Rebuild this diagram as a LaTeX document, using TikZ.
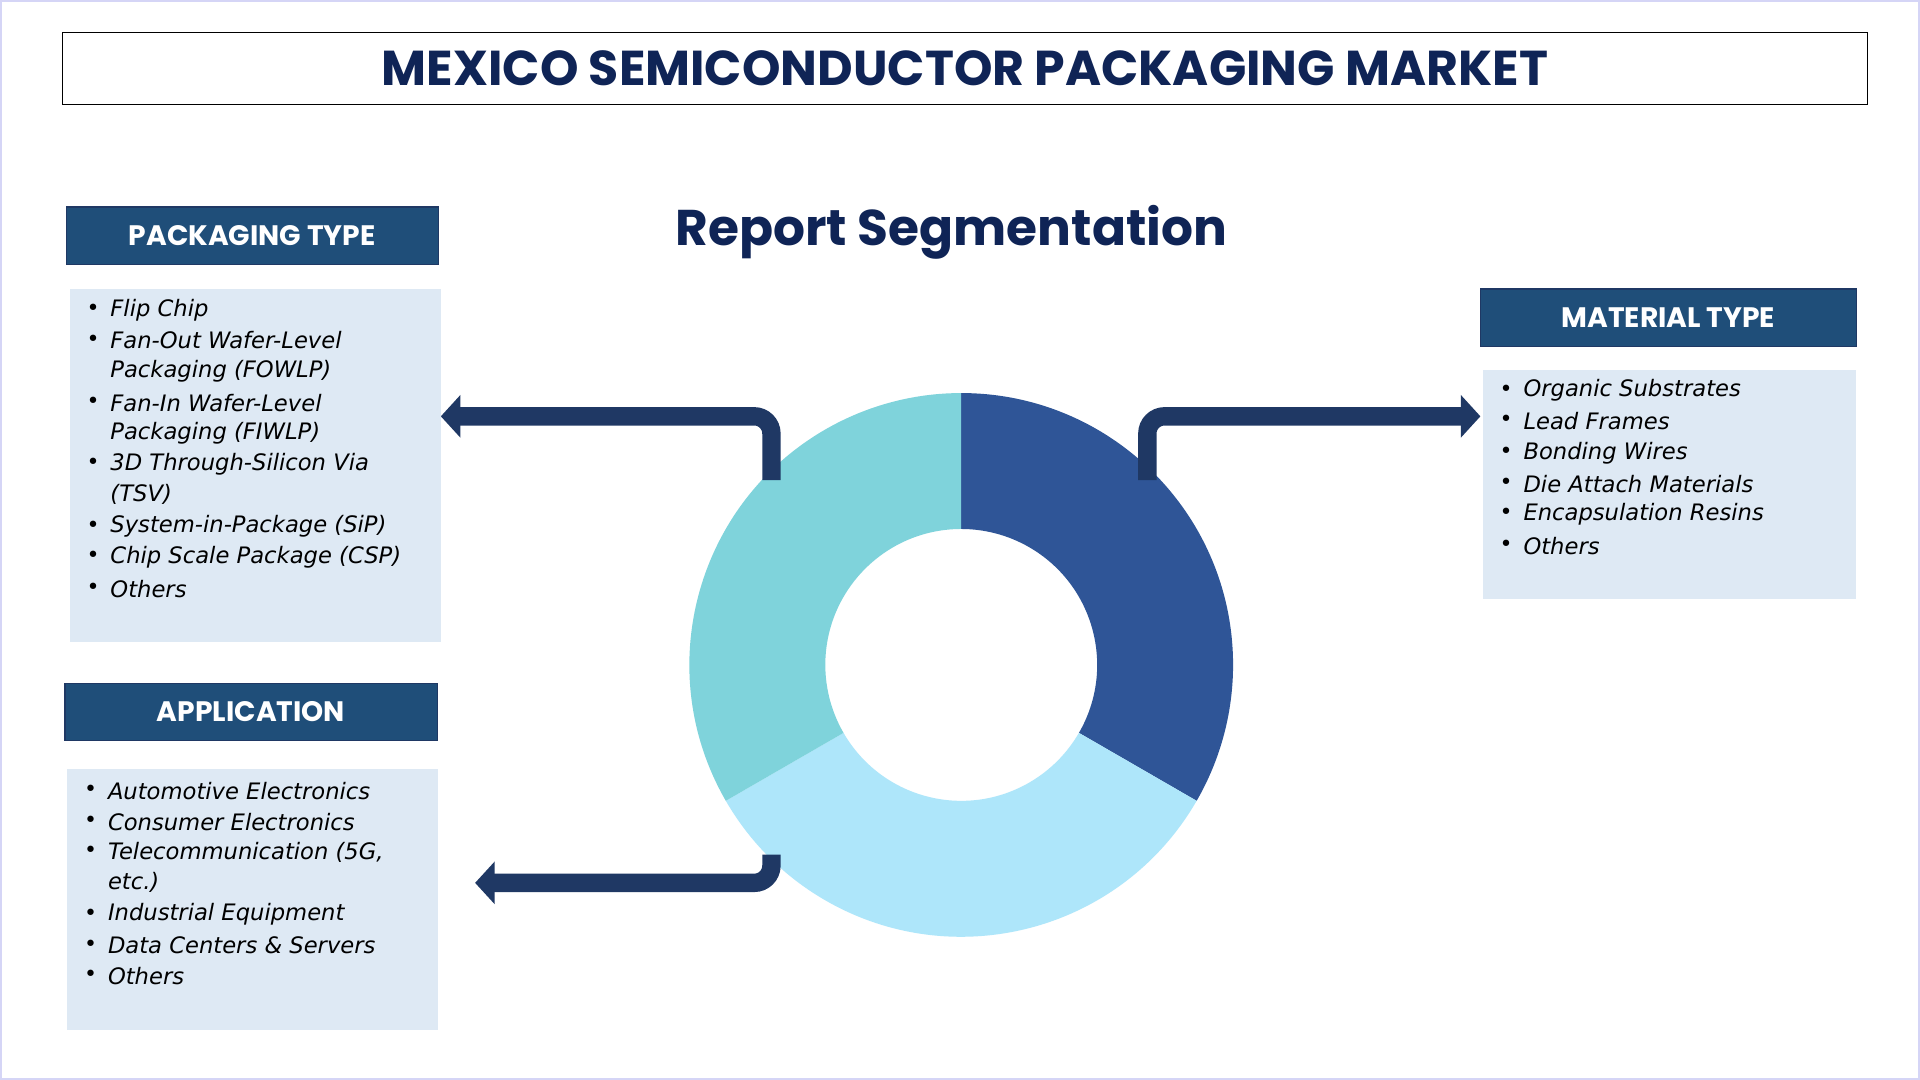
\documentclass[tikz,border=0pt]{standalone}
\usepackage{fontspec}
\setmainfont{DejaVu Sans}
\newfontfamily\pop{Poppins}
\usetikzlibrary{arrows.meta}
\definecolor{navy}{HTML}{0F2456}
\definecolor{hdr}{HTML}{1F4E79}
\definecolor{lst}{HTML}{DEE9F4}
\definecolor{arr}{HTML}{1F3864}
\definecolor{segA}{HTML}{2F5597}
\definecolor{segB}{HTML}{AEE6FA}
\definecolor{segC}{HTML}{7FD3DB}
\tikzset{
 hdrbox/.style={fill=hdr,draw=arr,line width=1pt,text=white,font=\pop\bfseries\fontsize{23}{26}\selectfont,inner sep=0},
 lstbox/.style={fill=lst,draw=none},
 itm/.style={anchor=west,inner sep=0,font=\itshape\fontsize{18.5}{24}\selectfont,text=black},
 bul/.style={anchor=center,inner sep=0,font=\fontsize{18}{20}\selectfont},
 conn/.style={draw=arr,line width=15pt,rounded corners=14pt,-{Triangle[width=34pt,length=16pt]}}
}
\begin{document}
\begin{tikzpicture}[x=1pt,y=-1pt]
\useasboundingbox (0,0) rectangle (1568,882);
\draw[draw=black!0,fill=white] (0,0) rectangle (1568,882);
\draw[draw=gray!35!blue!20,line width=2pt] (1,1) rectangle (1567,881);
\node[draw=black,line width=1pt,minimum width=1474pt,minimum height=59pt,inner sep=0,text=navy,font=\pop\bfseries\fontsize{40}{44}\selectfont] (title) at (788,56) {MEXICO SEMICONDUCTOR PACKAGING MARKET};
\node[text=navy,font=\pop\bfseries\fontsize{41}{46}\selectfont] (rs) at (777,190) {Report Segmentation};
% donut (y axis points down: visual angles negated)
\coordinate (c) at (785,543);
\fill[segA] (c) ++(-90:222) arc[start angle=-90,end angle=30,radius=222] -- ++(-150:111) arc[start angle=30,end angle=-90,radius=111] -- cycle;
\fill[segB] (c) ++(30:222) arc[start angle=30,end angle=150,radius=222] -- ++(-30:111) arc[start angle=150,end angle=30,radius=111] -- cycle;
\fill[segC] (c) ++(150:222) arc[start angle=150,end angle=270,radius=222] -- ++(90:111) arc[start angle=270,end angle=150,radius=111] -- cycle;
\coordinate (s1) at (630,392); \coordinate (e1) at (360,340);
\coordinate (s2) at (937,392); \coordinate (e2) at (1209,340);
\coordinate (s3) at (630,698); \coordinate (e3) at (388,721);
\draw[conn] (s1) |- (e1);
\draw[conn] (s2) |- (e2);
\draw[conn] (s3) |- (e3);
% boxes
\fill[lstbox] (57,236) rectangle (360,524);
\fill[lstbox] (55,628) rectangle (358,841);
\fill[lstbox] (1211,302) rectangle (1516,489);
\node[hdrbox,minimum width=304pt,minimum height=47pt] (h1) at (206,192.5) {PACKAGING TYPE};
\node[hdrbox,minimum width=304pt,minimum height=47pt] (h2) at (205,581.5) {APPLICATION};
\node[hdrbox,minimum width=307pt,minimum height=47pt] (h3) at (1362.5,259.5) {MATERIAL TYPE};
% list 1
\foreach \t/\y/\b [count=\i] in {Flip Chip/253/1,Fan-Out Wafer-Level/278/1,Packaging (FOWLP)/303/0,Fan-In Wafer-Level/329/1,Packaging (FIWLP)/354/0,3D Through-Silicon Via/379/1,(TSV)/404/0,System-in-Package (SiP)/430/1,Chip Scale Package (CSP)/455/1,Others/481/1}{
 \node[itm] (pa\i) at (90,\y) {\t};
 \ifnum\b=1 \node[bul] (pb\i) at (76,\y) {•};\fi
}
\foreach \t/\y/\b [count=\i] in {Automotive Electronics/646/1,Consumer Electronics/671/1,{Telecommunication (5G,}/696/1,etc.)/721/0,Industrial Equipment/747/1,Data Centers \& Servers/772/1,Others/797/1}{
 \node[itm] (aa\i) at (88,\y) {\t};
 \ifnum\b=1 \node[bul] (ab\i) at (74,\y) {•};\fi
}
\foreach \t/\y [count=\i] in {Organic Substrates/319,Lead Frames/344,Bonding Wires/370,Die Attach Materials/395,Encapsulation Resins/420,Others/446}{
 \node[itm] (ma\i) at (1244,\y) {\t};
 \node[bul] (mb\i) at (1230,\y) {•};
}
\end{tikzpicture}
\end{document}
